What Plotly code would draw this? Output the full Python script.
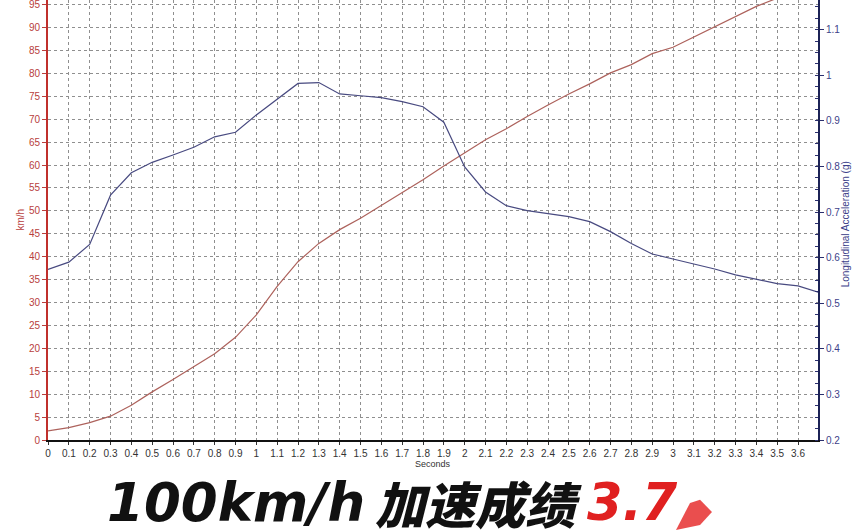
import plotly.graph_objects as go

# time base (s), 0.1 s steps
seconds = [0.0, 0.1, 0.2, 0.3, 0.4, 0.5, 0.6, 0.7, 0.8, 0.9,
           1.0, 1.1, 1.2, 1.3, 1.4, 1.5, 1.6, 1.7, 1.8, 1.9,
           2.0, 2.1, 2.2, 2.3, 2.4, 2.5, 2.6, 2.7, 2.8, 2.9,
           3.0, 3.1, 3.2, 3.3, 3.4, 3.5, 3.6, 3.7]

# speed (km/h)
speed_kmh = [2.0, 2.7, 3.8, 5.2, 7.6, 10.5, 13.2, 16.0, 18.8, 22.4,
             27.3, 33.5, 38.9, 42.9, 45.9, 48.4, 51.2, 53.9, 56.8, 59.8,
             62.7, 65.5, 67.9, 70.6, 73.1, 75.5, 77.7, 80.1, 81.9, 84.3,
             85.7, 87.9, 90.2, 92.4, 94.6, 96.4, 98.2, 100.0]

# longitudinal acceleration (g)
accel_g = [0.574, 0.590, 0.629, 0.737, 0.786, 0.809, 0.825, 0.842, 0.865, 0.875,
           0.913, 0.948, 0.982, 0.984, 0.959, 0.955, 0.951, 0.942, 0.931, 0.897,
           0.799, 0.744, 0.714, 0.703, 0.696, 0.690, 0.679, 0.657, 0.631, 0.608,
           0.597, 0.586, 0.575, 0.562, 0.553, 0.543, 0.538, 0.524]

x_tickvals = [i / 10 for i in range(37)]
x_ticktext = ["0", "0.1", "0.2", "0.3", "0.4", "0.5", "0.6", "0.7", "0.8", "0.9",
              "1", "1.1", "1.2", "1.3", "1.4", "1.5", "1.6", "1.7", "1.8", "1.9",
              "2", "2.1", "2.2", "2.3", "2.4", "2.5", "2.6", "2.7", "2.8", "2.9",
              "3", "3.1", "3.2", "3.3", "3.4", "3.5", "3.6"]
y2_tickvals = [0.2, 0.3, 0.4, 0.5, 0.6, 0.7, 0.8, 0.9, 1.0, 1.1]
y2_ticktext = ["0.2", "0.3", "0.4", "0.5", "0.6", "0.7", "0.8", "0.9", "1", "1.1"]

RED = "#b8403c"
NAVY = "#2b2f6e"
BLUE_TXT = "#3d3f8a"
GRID = "#8f8f8f"
tick_font = dict(family="Liberation Sans, Arial, sans-serif", size=10)

fig = go.Figure()

fig.add_trace(
    go.Scatter(
        x=seconds,
        y=speed_kmh,
        name="km/h",
        mode="lines",
        line=dict(color="#ad625c", width=1.2),
        showlegend=False)
)

fig.add_trace(
    go.Scatter(
        x=seconds,
        y=accel_g,
        name="Longitudinal Acceleration (g)",
        mode="lines",
        yaxis="y2",
        line=dict(color="#484a80", width=1.2),
        showlegend=False)
)

fig.update_layout(
    width=852,
    height=530,
    margin=dict(l=48, r=34, t=0, b=90),
    paper_bgcolor="white",
    plot_bgcolor="white",
    xaxis=dict(
        range=[0, 3.696],
        tickvals=x_tickvals,
        ticktext=x_ticktext,
        automargin=False,
        showgrid=True,
        gridcolor=GRID,
        griddash="3px,3px",
        gridwidth=1,
        zeroline=False,
        showline=True,
        linecolor="#111111",
        linewidth=2,
        ticks="outside",
        ticklen=3,
        tickcolor="#333333",
        tickfont=dict(color="#333333", **tick_font),
    ),
    yaxis=dict(
        range=[0, 96],
        dtick=5,
        tick0=0,
        automargin=False,
        ticklabeloverflow="allow",
        showgrid=True,
        gridcolor=GRID,
        griddash="3px,3px",
        gridwidth=1,
        zeroline=False,
        showline=True,
        linecolor="#c0302c",
        linewidth=2,
        ticks="outside",
        ticklen=4,
        tickcolor=RED,
        tickfont=dict(color=RED, **tick_font),
    ),
    yaxis2=dict(
        overlaying="y",
        side="right",
        range=[0.2, 1.165],
        tickvals=y2_tickvals,
        ticktext=y2_ticktext,
        automargin=False,
        ticklabeloverflow="allow",
        showgrid=False,
        zeroline=False,
        showline=True,
        linecolor="#1c2356",
        linewidth=2,
        ticks="outside",
        ticklen=4,
        tickcolor=NAVY,
        minor=dict(dtick=0.025, ticks="inside", ticklen=3, tickcolor=NAVY),
        tickfont=dict(color=BLUE_TXT, **tick_font),
    ),
)

# axis titles placed by hand
fig.add_annotation(
    text="km/h", xref="paper", yref="paper", x=-0.037, y=0.5,
    xanchor="center", yanchor="middle",
    textangle=-90, showarrow=False, font=dict(color=RED, **tick_font),
)
fig.add_annotation(
    text="Longitudinal Acceleration (g)", xref="paper", yref="paper", x=1.035, y=0.49,
    xanchor="center", yanchor="middle",
    textangle=-90, showarrow=False, font=dict(color=BLUE_TXT, **tick_font),
)
fig.add_annotation(
    text="Seconds", xref="paper", yref="paper", x=0.5, y=-0.055,
    xanchor="center", yanchor="middle",
    showarrow=False, font=dict(color="#333333", size=9, family=tick_font["family"]),
)

# big caption below the chart
title_font = dict(family="DejaVu Sans, Noto Sans CJK SC, sans-serif", weight=900, style="italic")
fig.add_annotation(
    text="100km/h", xref="paper", yref="paper", x=0.074, y=-0.142,
    xanchor="left", yanchor="middle", showarrow=False,
    font=dict(size=53, color="#111111", **title_font),
)
fig.add_annotation(
    text="加速成绩", xref="paper", yref="paper", x=0.422, y=-0.142,
    xanchor="left", yanchor="middle", showarrow=False,
    font=dict(size=50, color="#111111", family="Noto Sans CJK SC, sans-serif", weight=900, style="italic"),
)
fig.add_annotation(
    text="3.7", xref="paper", yref="paper", x=0.697, y=-0.142,
    xanchor="left", yanchor="middle", showarrow=False,
    font=dict(size=51, color="#e02020", **title_font),
)
# red speed blur after the number
fig.add_shape(
    type="path", xref="paper", yref="paper",
    path="M 0.8156 -0.2045 L 0.8338 -0.143 L 0.8468 -0.136 L 0.8623 -0.1636 L 0.8468 -0.1932 Z",
    fillcolor="#e52222", line=dict(width=0), opacity=0.8,
)

# drop the default 8px page margin so the figure sits at the window corner
fig.write_html("out.html", config={"displayModeBar": False},
               post_script="document.body.style.margin='0px';")
